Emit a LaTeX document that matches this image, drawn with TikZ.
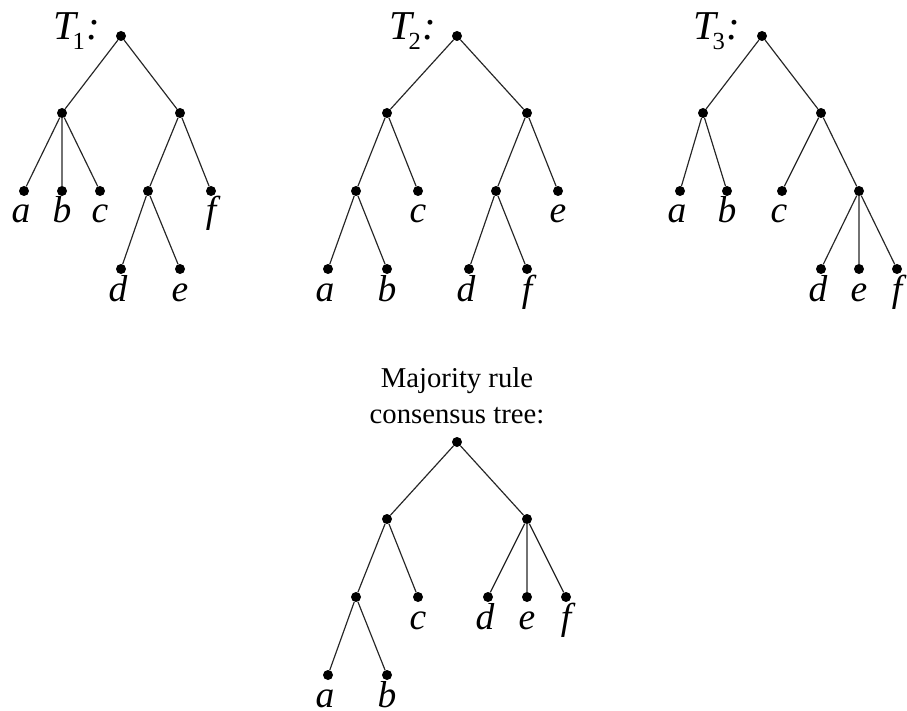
\documentclass[tikz,border=0pt]{standalone}
\usepackage{fontspec}
\setmainfont{Liberation Serif}
\usepackage{tikz}
\usetikzlibrary{calc, positioning}

\tikzset{
    dot/.style={circle, fill=black, inner sep=0pt, minimum size=0.3cm},
    leaflbl/.style={anchor=base, inner sep=0pt, font=\fontsize{32}{38}\selectfont\itshape},
    treename/.style={anchor=base west, inner sep=0pt, font=\fontsize{35}{40}\selectfont\itshape},
    branch/.style={line width=1pt, black!85}
}
\newcommand{\treelbl}[1]{T\kern-0.1cm\raisebox{-0.3cm}{\upshape\fontsize{21}{24}\selectfont #1}\kern0.03cm:}

\begin{document}
\begin{tikzpicture}[x=0.03cm, y=-0.03cm]
        \useasboundingbox (0,0) rectangle (907,711);

        % Tree T1
        \node[treename] (t1name) at (53,40) {\treelbl{1}};
        \node[dot] (t1r) at (121,36) {};
        \node[dot] (t1L) at (62,113) {};
        \node[dot] (t1R) at (180,113) {};
        \node[dot] (t1a) at (24,191) {};
        \node[dot] (t1b) at (62,191) {};
        \node[dot] (t1c) at (100,191) {};
        \node[dot] (t1de) at (148,191) {};
        \node[dot] (t1f) at (211,191) {};
        \node[dot] (t1d) at (121,269) {};
        \node[dot] (t1e) at (180,269) {};

        \draw[branch] (t1r) -- (t1L) (t1r) -- (t1R);
        \draw[branch] (t1L) -- (t1a) (t1L) -- (t1b) (t1L) -- (t1c);
        \draw[branch] (t1R) -- (t1de) (t1R) -- (t1f);
        \draw[branch] (t1de) -- (t1d) (t1de) -- (t1e);

        \node[leaflbl] (t1al) at ($(t1a)+(-3,32)$) {a};
        \node[leaflbl] (t1bl) at ($(t1b)+(0,32)$) {b};
        \node[leaflbl] (t1cl) at ($(t1c)+(0,32)$) {c};
        \node[leaflbl] (t1fl) at ($(t1f)+(0,32)$) {f};
        \node[leaflbl] (t1dl) at ($(t1d)+(-3,32)$) {d};
        \node[leaflbl] (t1el) at ($(t1e)+(0,32)$) {e};

        % Tree T2
        \node[treename] (t2name) at (389,40) {\treelbl{2}};
        \node[dot] (t2r) at (457,36) {};
        \node[dot] (t2L) at (387,113) {};
        \node[dot] (t2R) at (527,113) {};
        \node[dot] (t2ab) at (356,191) {};
        \node[dot] (t2c) at (418,191) {};
        \node[dot] (t2df) at (496,191) {};
        \node[dot] (t2e) at (558,191) {};
        \node[dot] (t2a) at (328,269) {};
        \node[dot] (t2b) at (387,269) {};
        \node[dot] (t2d) at (469,269) {};
        \node[dot] (t2f) at (527,269) {};

        \draw[branch] (t2r) -- (t2L) (t2r) -- (t2R);
        \draw[branch] (t2L) -- (t2ab) (t2L) -- (t2c);
        \draw[branch] (t2R) -- (t2df) (t2R) -- (t2e);
        \draw[branch] (t2ab) -- (t2a) (t2ab) -- (t2b);
        \draw[branch] (t2df) -- (t2d) (t2df) -- (t2f);

        \node[leaflbl] (t2cl) at ($(t2c)+(0,32)$) {c};
        \node[leaflbl] (t2el) at ($(t2e)+(0,32)$) {e};
        \node[leaflbl] (t2al) at ($(t2a)+(-3,32)$) {a};
        \node[leaflbl] (t2bl) at ($(t2b)+(0,32)$) {b};
        \node[leaflbl] (t2dl) at ($(t2d)+(-3,32)$) {d};
        \node[leaflbl] (t2fl) at ($(t2f)+(0,32)$) {f};

        % Tree T3
        \node[treename] (t3name) at (693,40) {\treelbl{3}};
        \node[dot] (t3r) at (762,36) {};
        \node[dot] (t3L) at (703,113) {};
        \node[dot] (t3R) at (821,113) {};
        \node[dot] (t3a) at (680,191) {};
        \node[dot] (t3b) at (727,191) {};
        \node[dot] (t3c) at (782,191) {};
        \node[dot] (t3def) at (859,191) {};
        \node[dot] (t3d) at (821,269) {};
        \node[dot] (t3e) at (859,269) {};
        \node[dot] (t3f) at (897,269) {};

        \draw[branch] (t3r) -- (t3L) (t3r) -- (t3R);
        \draw[branch] (t3L) -- (t3a) (t3L) -- (t3b);
        \draw[branch] (t3R) -- (t3c) (t3R) -- (t3def);
        \draw[branch] (t3def) -- (t3d) (t3def) -- (t3e) (t3def) -- (t3f);

        \node[leaflbl] (t3al) at ($(t3a)+(-3,32)$) {a};
        \node[leaflbl] (t3bl) at ($(t3b)+(0,32)$) {b};
        \node[leaflbl] (t3cl) at ($(t3c)+(-3,32)$) {c};
        \node[leaflbl] (t3dl) at ($(t3d)+(-3,32)$) {d};
        \node[leaflbl] (t3el) at ($(t3e)+(0,32)$) {e};
        \node[leaflbl] (t3fl) at ($(t3f)+(0,32)$) {f};

        % Majority rule consensus tree
        \node[align=center, inner sep=0pt, font=\fontsize{24.5}{31}\selectfont] (mrtitle) at (457,396) {Majority rule\\consensus tree:};
        \node[dot] (mr) at (457,442) {};
        \node[dot] (mL) at (387,519) {};
        \node[dot] (mR) at (527,519) {};
        \node[dot] (mab) at (356,597) {};
        \node[dot] (mc) at (418,597) {};
        \node[dot] (md) at (488,597) {};
        \node[dot] (me) at (527,597) {};
        \node[dot] (mf) at (566,597) {};
        \node[dot] (ma) at (328,675) {};
        \node[dot] (mb) at (387,675) {};

        \draw[branch] (mr) -- (mL) (mr) -- (mR);
        \draw[branch] (mL) -- (mab) (mL) -- (mc);
        \draw[branch] (mR) -- (md) (mR) -- (me) (mR) -- (mf);
        \draw[branch] (mab) -- (ma) (mab) -- (mb);

        \node[leaflbl] (mcl) at ($(mc)+(0,32)$) {c};
        \node[leaflbl] (mdl) at ($(md)+(-3,32)$) {d};
        \node[leaflbl] (mel) at ($(me)+(0,32)$) {e};
        \node[leaflbl] (mfl) at ($(mf)+(0,32)$) {f};
        \node[leaflbl] (mal) at ($(ma)+(-3,32)$) {a};
        \node[leaflbl] (mbl) at ($(mb)+(0,32)$) {b};
    \end{tikzpicture}
\end{document}
